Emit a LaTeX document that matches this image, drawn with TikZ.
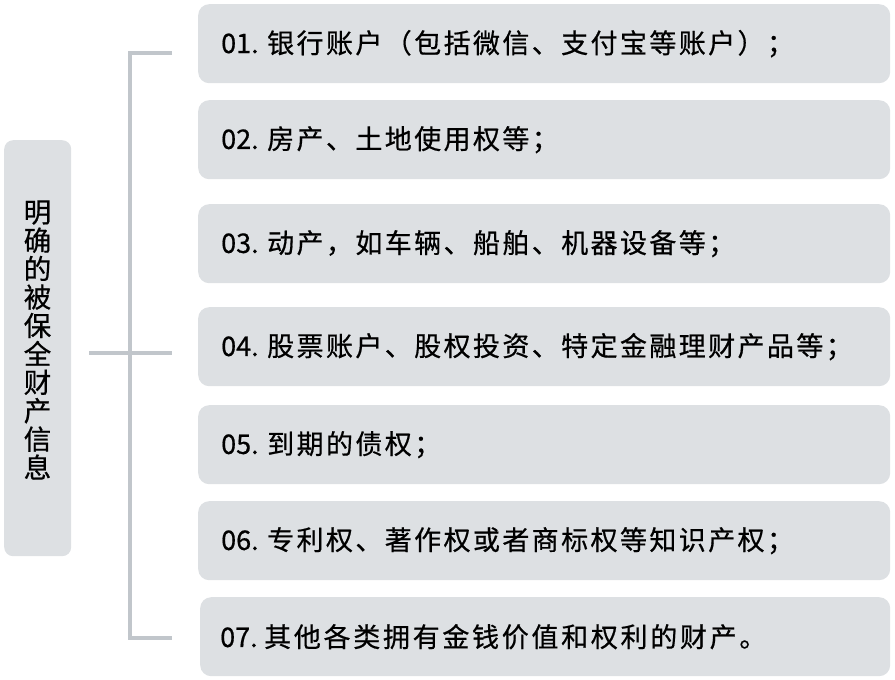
\documentclass[tikz,border=0pt]{standalone}
\usepackage{fontspec}
\setmainfont[FakeBold=0.6]{Noto Sans CJK SC}
\definecolor{boxgray}{HTML}{DDE0E3}
\definecolor{linegray}{HTML}{C1C6CB}
\newlength\cellw
\setlength\cellw{29.4pt}
\makeatletter
\def\cells#1{\my@cell#1\relax}
\def\my@cell#1{\ifx#1\relax\else\makebox[\cellw][l]{#1}\expandafter\my@cell\fi}
\makeatother
\newcommand\itemno[1]{\makebox[46pt][l]{#1}}
\begin{document}
\begin{tikzpicture}[x=1pt,y=-1pt,
  itembox/.style={fill=boxgray, rounded corners=11pt, anchor=north west,
    minimum width=692pt, minimum height=79pt, text width=646pt,
    inner xsep=23pt, inner ysep=0pt, align=left,
    font=\fontsize{27pt}{30pt}\selectfont},
  rootbox/.style={fill=boxgray, rounded corners=9pt, anchor=north west,
    minimum width=67pt, minimum height=416pt, inner sep=0pt},
  roottext/.style={font=\fontsize{27.5pt}{28.4pt}\selectfont, align=center, inner sep=0pt},
  conn/.style={draw=linegray, line width=3.5pt}]
\useasboundingbox (0,0) rectangle (895,680);
\node[rootbox] (root) at (4,140) {};
\node[roottext] (rt) at (37.5,340) {明\\确\\的\\被\\保\\全\\财\\产\\信\\息};
\node[itembox] (b1) at (198,4) {\itemno{01.}\cells{银行账户（包括微信、支付宝等账户）；}};
\node[itembox] (b2) at (198,100) {\itemno{02.}\cells{房产、土地使用权等；}};
\node[itembox] (b3) at (198,204) {\itemno{03.}\cells{动产，如车辆、船舶、机器设备等；}};
\node[itembox] (b4) at (198,307) {\itemno{04.}\cells{股票账户、股权投资、特定金融理财产品等；}};
\node[itembox] (b5) at (198,405) {\itemno{05.}\cells{到期的债权；}};
\node[itembox] (b6) at (198,501) {\itemno{06.}\cells{专利权、著作权或者商标权等知识产权；}};
\node[itembox, minimum width=690pt, text width=650pt, inner xsep=20pt] (b7) at (200,597) {\setlength\cellw{29.7pt}\makebox[44pt][l]{07.}\cells{其他各类拥有金钱价值和权利的财产。}};
\coordinate (mL) at (89,353);
\coordinate (mR) at (172,353);
\coordinate (sT) at (130,53);
\coordinate (sB) at (130,638);
\coordinate (eT) at (172,53);
\coordinate (eB) at (172,638);
\draw[conn] (eT) -- (sT) -- (sB) -- (eB);
\draw[conn] (mL) -- (mR);
\end{tikzpicture}
\end{document}
